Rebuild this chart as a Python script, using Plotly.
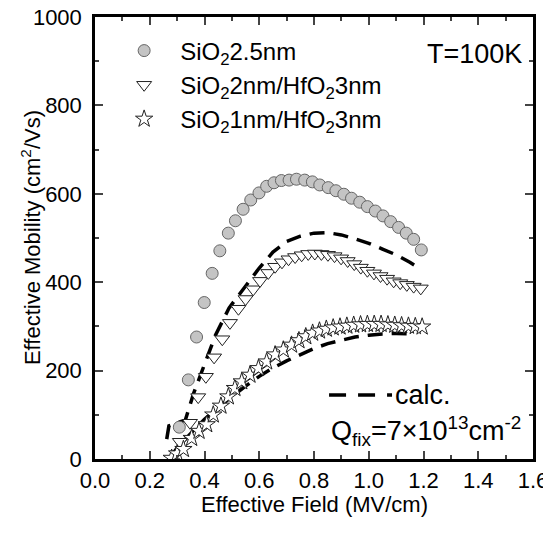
import plotly.graph_objects as go

# ---- data ----
E_circ = [0.308, 0.341, 0.371, 0.399, 0.428, 0.456, 0.487, 0.513, 0.541, 0.569, 0.599,
          0.627, 0.654, 0.681, 0.709, 0.736, 0.766, 0.794, 0.821, 0.852, 0.880, 0.909,
          0.937, 0.967, 0.995, 1.024, 1.052, 1.080, 1.109, 1.137, 1.164, 1.192]
mu_circ = [72, 179, 276, 354, 420, 471, 511, 539, 565, 586, 602,
           617, 625, 630, 631, 633, 631, 627, 620, 614, 607, 599,
           590, 581, 571, 561, 550, 537, 524, 511, 497, 473]

E_tri = [0.31, 0.347, 0.377, 0.405, 0.435, 0.465, 0.493, 0.524, 0.55, 0.578, 0.603,
         0.633, 0.658, 0.683, 0.707, 0.731, 0.755, 0.779, 0.803, 0.827, 0.851, 0.875,
         0.899, 0.923, 0.947, 0.971, 0.995, 1.019, 1.043, 1.067, 1.091, 1.115, 1.139,
         1.164, 1.19]
mu_tri = [39, 82, 140, 186, 230, 271, 308, 340, 362, 384, 403,
          421, 435, 445, 452, 457, 461, 464, 465, 464, 462, 459,
          454, 448, 441, 433, 426, 420, 414, 408, 402, 398, 394,
          390, 386]

E_star = [0.28, 0.3, 0.323, 0.353, 0.38, 0.408, 0.432, 0.46, 0.487, 0.511, 0.536, 0.566,
          0.597, 0.627, 0.658, 0.688, 0.718, 0.745, 0.77, 0.795, 0.82, 0.845, 0.87, 0.895,
          0.92, 0.945, 0.97, 0.995, 1.02, 1.045, 1.07, 1.095, 1.12, 1.145, 1.17, 1.195]
mu_star = [2, 12, 22, 47, 63, 78, 100, 120, 141, 160, 175, 190,
           205, 220, 236, 247, 258, 268, 277, 285, 290, 294, 297, 299,
           301, 303, 304, 305, 305, 305, 304, 303, 302, 301, 300, 299]

E_calc1 = [0.262, 0.27, 0.30, 0.33, 0.36, 0.40, 0.44, 0.49, 0.55, 0.60, 0.65,
           0.70, 0.75, 0.80, 0.85, 0.90, 0.95, 1.00, 1.05, 1.10, 1.15, 1.19]
mu_calc1 = [45, 75, 82, 88, 148, 213, 280, 342, 392, 432, 468,
            492, 504, 511, 512, 507, 498, 488, 475, 462, 445, 430]

E_calc2 = [0.27, 0.30, 0.35, 0.40, 0.45, 0.50, 0.55, 0.60, 0.65, 0.70, 0.75, 0.80,
           0.85, 0.90, 0.95, 1.00, 1.05, 1.10, 1.16]
mu_calc2 = [0, 25, 58, 90, 117, 142, 165, 187, 206, 222, 237, 250,
            261, 269, 276, 280, 283, 284, 283]

names = ["SiO<sub>2</sub>2.5nm", "SiO<sub>2</sub>2nm/HfO<sub>2</sub>3nm",
         "SiO<sub>2</sub>1nm/HfO<sub>2</sub>3nm"]

FONT = "Liberation Sans, Arial, Helvetica, sans-serif"
DASH = "15px,9px"

fig = go.Figure()
fig.add_trace(go.Scatter(x=E_calc1, y=mu_calc1, mode="lines", showlegend=False,
                         line=dict(color="black", width=3.5, dash=DASH)))
fig.add_trace(go.Scatter(x=E_calc2, y=mu_calc2, mode="lines", showlegend=False,
                         line=dict(color="black", width=3.5, dash=DASH)))
fig.add_trace(go.Scatter(x=E_circ, y=mu_circ, mode="markers", name=names[0],
                         marker=dict(symbol="circle", size=12, color="#c4c4c4",
                                     line=dict(color="#666666", width=1))))
fig.add_trace(go.Scatter(x=E_tri, y=mu_tri, mode="markers", name=names[1],
                         marker=dict(symbol="triangle-down", size=13, color="white",
                                     line=dict(color="#222222", width=1))))
fig.add_trace(go.Scatter(x=E_star, y=mu_star, mode="markers", name=names[2],
                         marker=dict(symbol="star", size=13, color="white",
                                     line=dict(color="#222222", width=1))))

axis_common = dict(ticks="inside", ticklen=8, tickwidth=2, showline=True, linewidth=2.5,
                   linecolor="black", mirror="allticks", showgrid=False, zeroline=False,
                   automargin=False, tickfont=dict(size=22), ticklabeloverflow="allow")

# page body has an 8px margin, so the figure is offset by 8px
fig.update_layout(
    width=551, height=510,
    margin=dict(l=87, r=26, t=9, b=59),
    paper_bgcolor="white", plot_bgcolor="white",
    font=dict(family=FONT, size=22, color="black"),
    showlegend=True,
    legend=dict(x=0.030, y=0.974, xanchor="left", yanchor="top",
                bgcolor="rgba(0,0,0,0)", font=dict(size=24), tracegroupgap=0,
                itemsizing="trace", itemwidth=62),
    xaxis=dict(range=[0, 1.6], dtick=0.2, tickformat=".1f", ticklabelstandoff=0,
               minor=dict(dtick=0.1, ticks="inside", ticklen=4, tickwidth=2, showgrid=False),
               **axis_common),
    yaxis=dict(range=[0, 1000], dtick=200, ticklabelstandoff=6,
               minor=dict(dtick=100, ticks="inside", ticklen=4, tickwidth=2, showgrid=False),
               **axis_common),
)

# axis titles
fig.add_annotation(x=0.5, y=-0.104, xref="paper", yref="paper", text="Effective Field (MV/cm)",
                   showarrow=False, xanchor="center", yanchor="middle", font=dict(size=22))
fig.add_annotation(x=-0.146, y=0.5, xref="paper", yref="paper",
                   text="Effective Mobility (cm<sup>2</sup>/Vs)", textangle=-90,
                   showarrow=False, xanchor="center", yanchor="middle", font=dict(size=22))

fig.add_annotation(x=0.98, y=0.955, xref="paper", yref="paper", text="T=100K",
                   showarrow=False, xanchor="right", yanchor="top", font=dict(size=27))
fig.add_shape(type="line", x0=0.855, x1=1.085, y0=145, y1=145, xref="x", yref="y",
              line=dict(color="black", width=3.5, dash="17px,12px"))
fig.add_annotation(x=1.09, y=145, xref="x", yref="y", text="calc.", showarrow=False,
                   xanchor="left", yanchor="middle", font=dict(size=27))
fig.add_annotation(x=0.855, y=63, xref="x", yref="y",
                   text="Q<sub>fix</sub>=7×10<sup>13</sup>cm<sup>-2</sup>", showarrow=False,
                   xanchor="left", yanchor="middle", font=dict(size=27))

fig.write_html("out.html")
